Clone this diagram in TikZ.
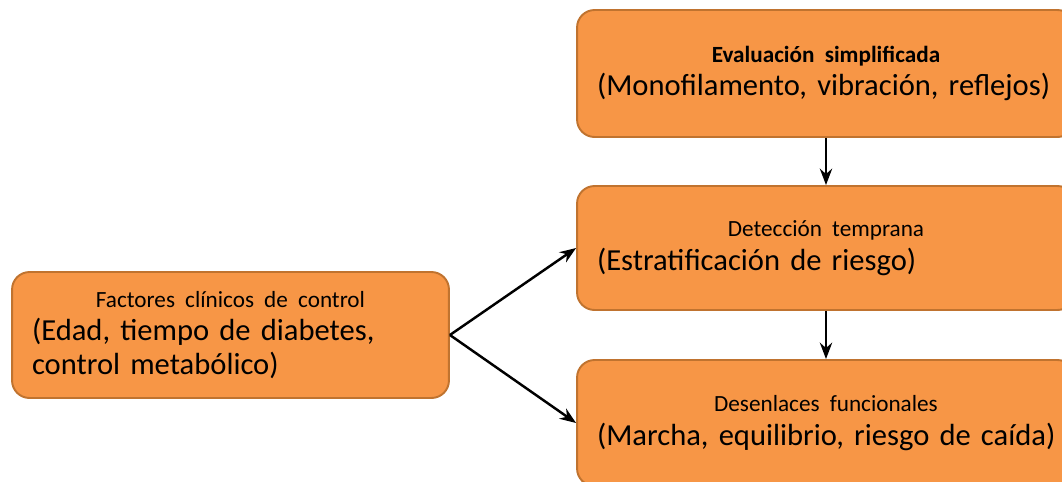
\documentclass[tikz,border=0pt]{standalone}
\usepackage{fontspec}
\setmainfont{Carlito}
\usetikzlibrary{arrows.meta,positioning}
\definecolor{cajafondo}{HTML}{F79646}
\definecolor{cajaborde}{HTML}{C0732F}
\newcommand{\titulo}[1]{{\fontsize{13.2}{19}\selectfont #1}}

\begin{document}
\begin{tikzpicture}[x=0.02cm, y=-0.02cm, >=Stealth,
  caja/.style={draw=cajaborde, line width=1.1pt, fill=cajafondo, rounded corners=0.35cm, inner xsep=0.4cm, minimum height=#1, font=\fontsize{17.4}{19}\selectfont},
  flecha/.style={->, line width=1.4pt}]
\useasboundingbox (0,0) rectangle (1062,481);
% cajas de la derecha
\node[caja=2.54cm, text width=9.16cm] (evaluacion) at (826,73.5) {\centering\titulo{\textbf{Evaluación simplificada}}\par\raggedright (Monofilamento, vibración, reflejos)\par};
\node[caja=2.48cm, text width=9.16cm] (deteccion) at (826,248) {\centering\titulo{Detección temprana}\par\raggedright (Estratificación de riesgo)\par};
\node[caja=2.52cm, text width=9.16cm] (desenlaces) at (826,423) {\centering\titulo{Desenlaces funcionales}\par\raggedright \mbox{(Marcha, equilibrio, riesgo de caída)}\par};
% caja de la izquierda
\node[caja=2.52cm, text width=7.94cm] (factores) at (230.5,335) {\centering\titulo{Factores clínicos de control}\par\raggedright (Edad, tiempo de diabetes,\newline control metabólico)\par};
% flechas
\draw[flecha] (evaluacion) -- (deteccion);
\draw[flecha] (deteccion) -- (desenlaces);
\draw[flecha] (factores.east) -- (deteccion.west);
\draw[flecha] (factores.east) -- (desenlaces.west);
\end{tikzpicture}
\end{document}
